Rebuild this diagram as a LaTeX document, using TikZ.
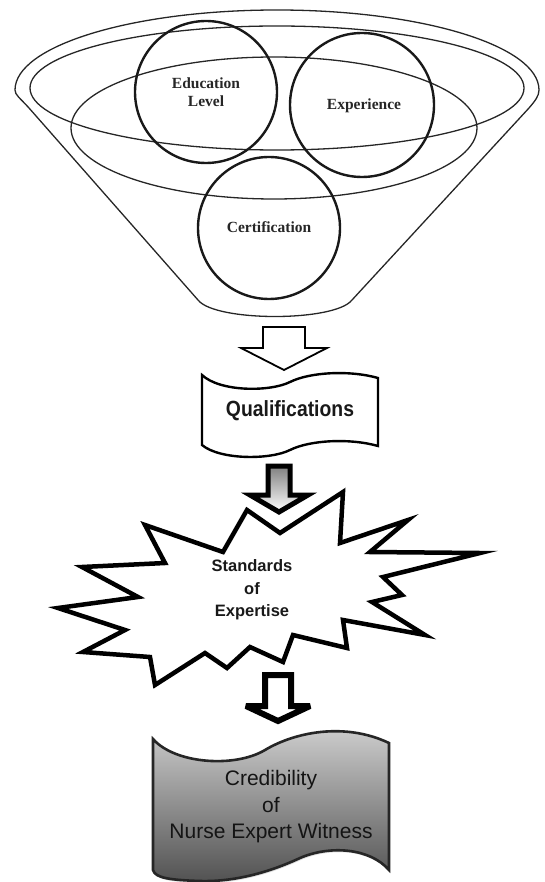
\documentclass[tikz,border=0pt]{standalone}
\usepackage{fontspec}
\setmainfont{Liberation Serif}
\setsansfont{Liberation Sans}
\newfontfamily\qualfont[FakeStretch=0.88]{Liberation Sans}
\usetikzlibrary{shadows}

\begin{document}
\begin{tikzpicture}[x=1pt, y=-1pt,
        rim/.style={line width=1.3pt, black!85},
        ring/.style={line width=2.4pt, black!90},
        hollowarrow/.style={line width=1.8pt, fill=white},
        heavyarrow/.style={line width=5pt, miter limit=4},
        banner/.style={line width=2.4pt},
        roundlabel/.style={font=\fontsize{15.5}{18}\selectfont\bfseries, text=black!85, align=center},
        burstlabel/.style={font=\sffamily\bfseries\fontsize{16.5}{22.5}\selectfont, text=black!90, align=center},
    ]
    \useasboundingbox (0,0) rectangle (544,882);

    % funnel
    \draw[rim] (15,90) arc[start angle=180, end angle=360, x radius=262, y radius=80]
        .. controls (539,96) and (535,101) .. (529,108)
        -- (352,300)
        .. controls (335,322) and (215,322) .. (198,300)
        -- (29,108)
        .. controls (20,98) and (15,95) .. (15,90);
    \draw[rim] (277,88) ellipse[x radius=247, y radius=62];
    \draw[rim] (274,128) ellipse[x radius=203, y radius=71];

    \draw[ring] (206,92) circle[radius=71];
    \draw[ring] (362,105) circle[radius=72];
    \draw[ring] (269,228) circle[radius=71];
    \node[roundlabel] (edu) at (206,92) {Education\\Level};
    \node[roundlabel] (exp) at (364,106) {Experience};
    \node[roundlabel] (cert) at (269,227.5) {Certification};

    % first arrow
    \draw[hollowarrow] (263,327) -- (305,327) -- (305,348) -- (327,348)
        -- (284,370) -- (241,348) -- (263,348) -- cycle;

    % qualifications
    \draw[banner] (202,375) .. controls (220,392) and (270,392) .. (290,382)
        .. controls (310,372) and (350,370) .. (378,378)
        -- (378,446)
        .. controls (350,438) and (310,440) .. (290,450)
        .. controls (270,460) and (220,460) .. (202,445) -- cycle;
    \node[font=\qualfont\bfseries\fontsize{22}{26}\selectfont, text=black!90] (qual) at (290,411) {Qualifications};

    % standards
    \draw[line width=4.5pt, fill=white] (247,510) -- (280,533) -- (343,492) -- (340,543)
        -- (408,520) -- (370,552) -- (480,553) -- (383,577) -- (402,595) -- (372,602)
        -- (425,635) -- (343,620) -- (347,648) -- (293,635) -- (283,662) -- (250,647)
        -- (227,668) -- (205,653) -- (155,685) -- (150,657) -- (83,652) -- (125,630)
        -- (58,608) -- (138,597) -- (82,567) -- (165,563) -- (145,525) -- (223,552) -- cycle;
    \node[burstlabel] (std) at (252,590) {Standards\\of\\Expertise};

    \draw[heavyarrow, top color=black!50, bottom color=white] (268,466) -- (290,466) -- (290,495)
        -- (308,495) -- (279,512) -- (250,495) -- (268,495) -- cycle;

    % credibility
    \draw[line width=6pt, miter limit=4, fill=white] (265,675) -- (291,675) -- (291,706)
        -- (310,706) -- (278,721) -- (246,706) -- (265,706) -- cycle;

    \draw[line width=2.6pt, black!85, top color=black!18, bottom color=black!68,
          drop shadow={shadow xshift=1pt, shadow yshift=-2pt, opacity=0.25}]
        (153,739) .. controls (175,764) and (235,768) .. (265,750)
        .. controls (295,732) and (345,722) .. (389,743)
        -- (389,870)
        .. controls (370,848) and (330,845) .. (300,858)
        .. controls (270,872) and (235,882) .. (200,881)
        .. controls (170,880) and (155,878) .. (153,870) -- cycle;
    \node[font=\sffamily\fontsize{21}{26.5}\selectfont, text=black!92, align=center] (cred) at (271,807)
        {Credibility\\of\\Nurse Expert Witness};
\end{tikzpicture}
\end{document}
